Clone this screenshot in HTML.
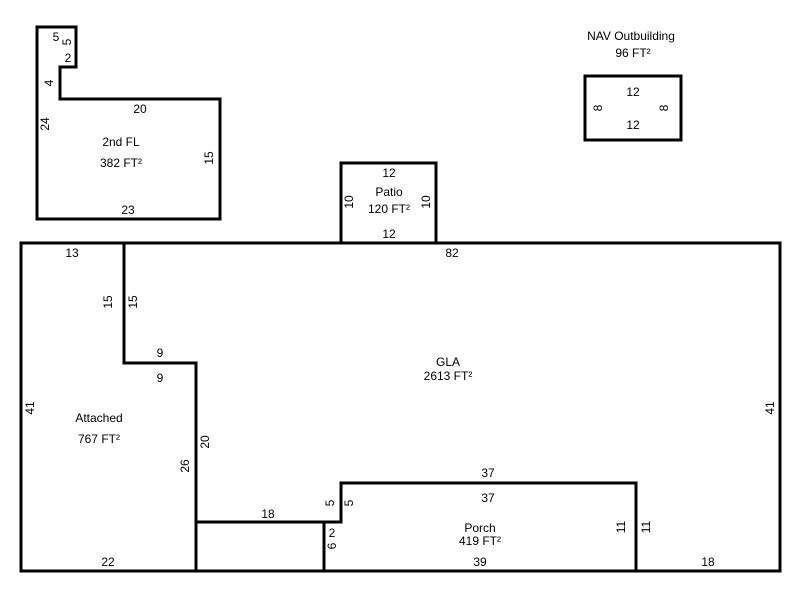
<!DOCTYPE html>
<html><head><meta charset="utf-8"><style>
html,body{margin:0;padding:0;background:#fff;}
svg{display:block;}
text{font-family:"Liberation Sans",Arial,sans-serif;font-size:12px;fill:#000;}
</style></head><body>
<svg width="800" height="600" viewBox="0 0 800 600" xmlns="http://www.w3.org/2000/svg">
<g fill="none" stroke="#000" stroke-width="3" stroke-linejoin="miter" stroke-linecap="square">
<polygon points="37,27 76,27 76,67 60,67 60,99 220,99 220,219 37,219"/>
<rect x="585" y="76" width="96" height="64"/>
<rect x="341" y="163" width="95" height="80"/>
<rect x="21" y="243" width="759" height="328"/>
<polyline points="124,243 124,363 196,363 196,571"/>
<polyline points="196,522 341,522 341,483 636,483 636,571"/>
<polyline points="324,522 324,571"/>
</g>
<g text-anchor="middle" dominant-baseline="central">
<!-- 2nd FL -->
<text x="56" y="37">5</text>
<text transform="translate(67,42) rotate(-90)">5</text>
<text x="68" y="58">2</text>
<text transform="translate(49,83) rotate(-90)">4</text>
<text x="140" y="109">20</text>
<text transform="translate(45,124) rotate(-90)">24</text>
<text x="121" y="142">2nd FL</text>
<text x="121" y="163">382 FT²</text>
<text transform="translate(209,158) rotate(-90)">15</text>
<text x="128" y="210">23</text>
<!-- NAV -->
<text x="631" y="36">NAV Outbuilding</text>
<text x="633" y="53">96 FT²</text>
<text x="633" y="92">12</text>
<text x="633" y="125">12</text>
<text transform="translate(598,108) rotate(-90)">8</text>
<text transform="translate(664,108) rotate(-90)">8</text>
<!-- Patio -->
<text x="389" y="173">12</text>
<text x="389" y="192">Patio</text>
<text x="389" y="209">120 FT²</text>
<text transform="translate(349,202) rotate(-90)">10</text>
<text transform="translate(426,202) rotate(-90)">10</text>
<text x="389" y="234">12</text>
<!-- GLA -->
<text x="452" y="253">82</text>
<text x="448" y="362">GLA</text>
<text x="448" y="376">2613 FT²</text>
<text transform="translate(30,408) rotate(-90)">41</text>
<text transform="translate(770,408) rotate(-90)">41</text>
<text x="708" y="562">18</text>
<!-- Attached -->
<text x="72" y="253">13</text>
<text transform="translate(108,302) rotate(-90)">15</text>
<text transform="translate(133,302) rotate(-90)">15</text>
<text x="160" y="353">9</text>
<text x="160" y="378">9</text>
<text x="99" y="418">Attached</text>
<text x="99" y="439">767 FT²</text>
<text transform="translate(185,466) rotate(-90)">26</text>
<text transform="translate(205,442) rotate(-90)">20</text>
<text x="108" y="562">22</text>
<text x="268" y="514">18</text>
<!-- Porch -->
<text x="488" y="473">37</text>
<text x="488" y="498">37</text>
<text transform="translate(330,503) rotate(-90)">5</text>
<text transform="translate(349,503) rotate(-90)">5</text>
<text x="332" y="533">2</text>
<text transform="translate(332,546) rotate(-90)">6</text>
<text x="480" y="528">Porch</text>
<text x="480" y="541">419 FT²</text>
<text transform="translate(621,527) rotate(-90)">11</text>
<text transform="translate(646,527) rotate(-90)">11</text>
<text x="480" y="562">39</text>
</g>
</svg>
</body></html>
